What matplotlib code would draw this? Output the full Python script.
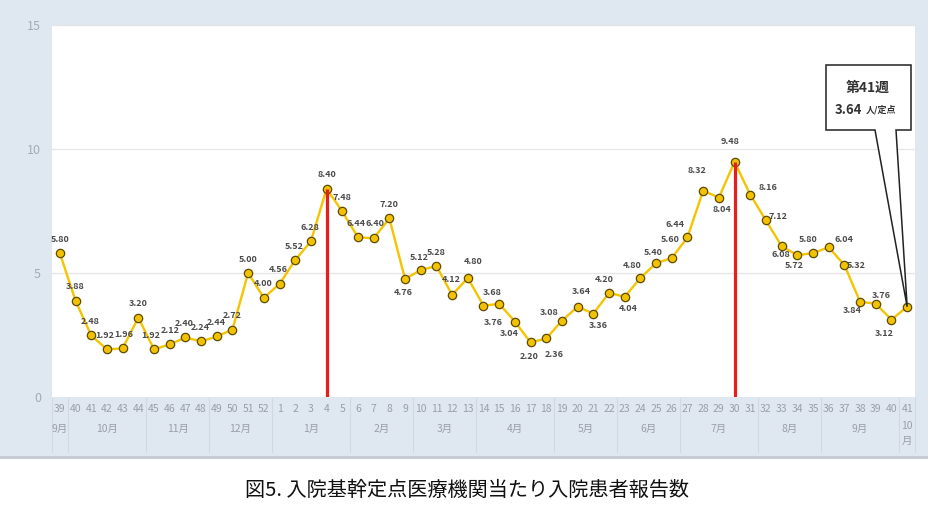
import matplotlib
matplotlib.use("Agg")
import matplotlib.pyplot as plt
from matplotlib.patches import Rectangle, Polygon
from matplotlib.lines import Line2D
import matplotlib.transforms as mtransforms

plt.rcParams['font.family'] = ['Noto Sans CJK JP', 'DejaVu Sans']

# ---- data ----
weeks = [39, 40, 41, 42, 43, 44, 45, 46, 47, 48, 49, 50, 51, 52,
         1, 2, 3, 4, 5, 6, 7, 8, 9, 10, 11, 12, 13, 14, 15, 16, 17, 18, 19, 20,
         21, 22, 23, 24, 25, 26, 27, 28, 29, 30, 31, 32, 33, 34, 35, 36, 37, 38,
         39, 40, 41]
values = [5.80, 3.88, 2.48, 1.92, 1.96, 3.20, 1.92, 2.12, 2.40, 2.24, 2.44, 2.72, 5.00, 4.00,
          4.56, 5.52, 6.28, 8.40, 7.48, 6.44, 6.40, 7.20, 4.76, 5.12, 5.28, 4.12, 4.80,
          3.68, 3.76, 3.04, 2.20, 2.36, 3.08, 3.64, 3.36, 4.20, 4.04, 4.80, 5.40, 5.60,
          6.44, 8.32, 8.04, 9.48, 8.16, 7.12, 6.08, 5.72, 5.80, 6.04, 5.32, 3.84, 3.76,
          3.12, 3.64]
months = ["9月", "10月", "11月", "12月", "1月", "2月", "3月", "4月", "5月", "6月",
          "7月", "8月", "9月", "10\n月"]
month_counts = [1, 5, 4, 4, 5, 4, 4, 5, 4, 4, 5, 4, 5, 1]
peak_index = [17, 43]   # week 4 and week 30
y_ticks = [0, 5, 10, 15]
caption = "図5. 入院基幹定点医療機関当たり入院患者報告数"
unit = "人/定点"

# ---- label offsets (pixels, style only) ----
label_offsets = [(0, 14), (0, 14), (-1, 14), (-2, 14), (1, 14), (0, 14), (-3, 14), (1, 14),
                 (-1, 14), (-1, 14), (-1, 14), (0, 14), (0, 14), (-1, 14),
                 (-1, 14), (-1, 14), (-1, 14), (0, 14), (0, 14), (-2, 14), (1, 15), (0, 14),
                 (-2, -14), (-1, 13), (0, 14), (-1, 15), (5, 16), (9, 13), (-6, -19),
                 (-6, -12), (-1, -14), (8, -16), (-13, 8), (4, 15), (5, -12), (-5, 13),
                 (3, -12), (-8, 12), (-3, 11), (-2, 19), (-12, 13), (-6, 20), (3, -12),
                 (-4, 20), (18, 7), (12, 4), (-1, -8), (-3, -10), (-5, 14), (15, 8),
                 (12, 0), (-8, -9), (6, 8), (-7, -14), None]

W, H = 929, 509
fig = plt.figure(figsize=(W / 100, H / 100), dpi=100, facecolor='white')

bg = '#dfe7f1'
fig.patches.append(Rectangle((0, 1 - 456 / H), 1, 456 / H, transform=fig.transFigure,
                             facecolor=bg, edgecolor='none', zorder=-10))
fig.lines.append(Line2D([0, 1], [1 - 457 / H, 1 - 457 / H], transform=fig.transFigure,
                        color='#c6cbd3', linewidth=2.2, zorder=-9))

ax_l, ax_r, ax_t, ax_b = 52, 915, 25, 397
ax = fig.add_axes([ax_l / W, 1 - ax_b / H, (ax_r - ax_l) / W, (ax_b - ax_t) / H])
ax.set_zorder(1)
ax.set_facecolor('white')
for s in ax.spines.values():
    s.set_visible(False)

x = list(range(len(values)))
ax.set_xlim(-0.5, len(values) - 0.5)
ax.set_ylim(0, 15)
ax.set_yticks(y_ticks)
ax.set_yticklabels([str(t) for t in y_ticks])
ax.tick_params(axis='y', length=0, pad=8, labelsize=9, labelcolor='#a3abb9')
ax.set_xticks(x)
ax.set_xticklabels([str(w) for w in weeks])
ax.tick_params(axis='x', length=0, pad=5, labelsize=7.5, labelcolor='#9a9fa8')
for t in y_ticks[1:]:
    ax.axhline(t, color='#e6e6e6', linewidth=1.0, zorder=1)

ax.plot(x, values, color='#f5c400', linewidth=1.7, zorder=3,
        marker='o', markersize=6, markerfacecolor='#f2c200',
        markeredgecolor='#5c4b00', markeredgewidth=0.9)

for i in peak_index:
    ax.plot([x[i], x[i]], [0, values[i]], color='#e61e1e', linewidth=2.3, zorder=4,
            solid_capstyle='butt')

for i, (xi, v) in enumerate(zip(x, values)):
    off = label_offsets[i]
    if off is None:
        continue
    ax.annotate(f"{v:.2f}", (xi, v), xytext=off, textcoords='offset pixels',
                ha='center', va='center', fontsize=6.5, fontweight='bold',
                color='#4a4a4a', zorder=5)

# month labels and separators
trans = mtransforms.blended_transform_factory(ax.transData, fig.transFigure)
start = 0
bounds = [-0.5]
for m, c in zip(months, month_counts):
    center = start + (c - 1) / 2
    if '\n' in m:
        ax.text(center, 1 - 421 / H, m, transform=trans, ha='center', va='top',
                fontsize=7.5, color='#9a9fa8', linespacing=1.6)
    else:
        ax.text(center, 1 - 429 / H, m, transform=trans, ha='center', va='center',
                fontsize=7.5, color='#9a9fa8')
    start += c
    bounds.append(start - 0.5)
for b in bounds:
    ax.add_line(Line2D([b, b], [1 - 398 / H, 1 - 452 / H], transform=trans,
                       color='#cfd8e4', linewidth=0.8, clip_on=False))

# callout
def px2data(px, py):
    dx = (px - ax_l) / (ax_r - ax_l) * len(values) - 0.5
    dy = (ax_b - py) / (ax_b - ax_t) * 15
    return dx, dy

L, T = px2data(826, 65)
R, B = px2data(911, 130)
p1, _ = px2data(875, 130)
p2, _ = px2data(896, 130)
tip = (x[-1], values[-1])
poly = Polygon([(L, T), (R, T), (R, B), (p2, B), tip, (p1, B), (L, B)], closed=True,
               facecolor='white', edgecolor='#222222', linewidth=1.1, zorder=6,
               clip_on=False)
ax.add_patch(poly)
cx, cy1 = px2data(868, 88)
ax.text(cx, cy1, f"第{weeks[-1]}週", ha='center', va='center', fontsize=10,
        fontweight='bold', color='#333333', zorder=7)
vx, cy2 = px2data(862, 110)
ax.text(vx, cy2, f"{values[-1]:.2f}", ha='right', va='center', fontsize=9.5,
        fontweight='bold', color='#333333', zorder=7)
ux, _ = px2data(866, 110)
ax.text(ux, cy2, unit, ha='left', va='center', fontsize=6.5,
        fontweight='bold', color='#333333', zorder=7)

fig.text(467 / W, 1 - 490 / H, caption, ha='center', va='center', fontsize=14.5,
         color='#111111')

fig.savefig('out.png', dpi=100, facecolor='white')
